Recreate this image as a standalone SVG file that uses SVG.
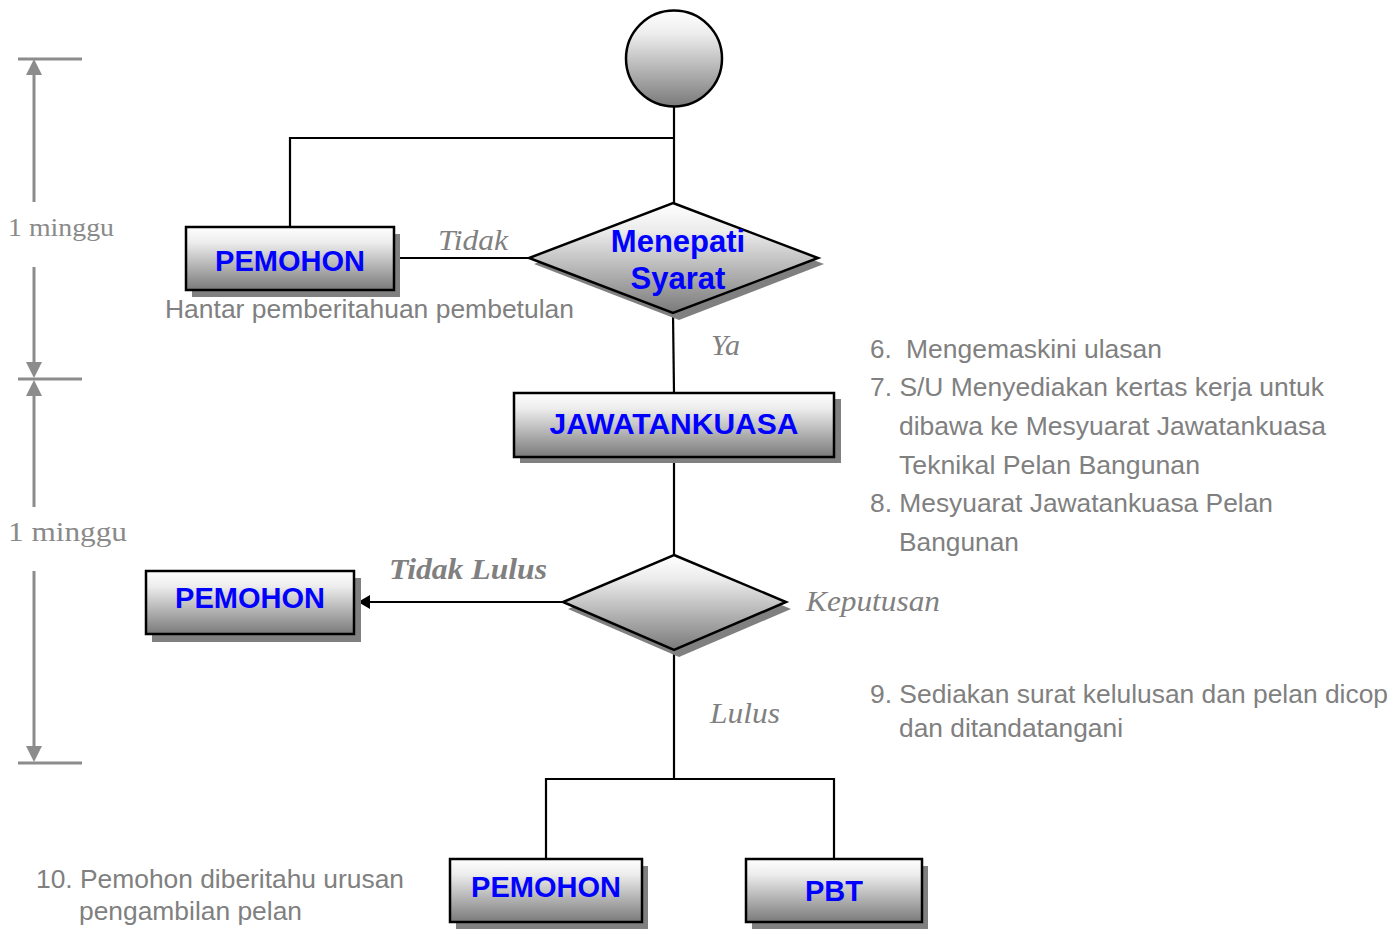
<svg xmlns="http://www.w3.org/2000/svg" width="1397" height="932" viewBox="0 0 1397 932">
  <defs>
    <linearGradient id="g" x1="0" y1="0" x2="0" y2="1">
      <stop offset="0" stop-color="#ffffff"/>
      <stop offset="0.25" stop-color="#ececec"/>
      <stop offset="1" stop-color="#7a7a7a"/>
    </linearGradient>
    <marker id="arr" markerWidth="12" markerHeight="14" refX="11" refY="7" orient="auto" markerUnits="userSpaceOnUse">
      <path d="M0,0 L12,7 L0,14 Z" fill="#000"/>
    </marker>
    <style>
      .box { fill: url(#g); stroke: #000; stroke-width: 2.5; }
      .shadow { fill: #808080; }
      .lbl { font-family: "Liberation Sans", Arial, sans-serif; font-weight: bold; fill: #0000ff; text-anchor: middle; }
      .note { font-family: "Liberation Sans", Arial, sans-serif; font-size: 26px; fill: #808080; }
      .it { font-family: "Liberation Serif", "Times New Roman", serif; font-style: italic; fill: #808080; }
      .dim { font-family: "Liberation Serif", "Times New Roman", serif; fill: #8a8a8a; }
      .conn { stroke: #000; stroke-width: 2.2; fill: none; }
      .dline { stroke: #8c8c8c; stroke-width: 3; fill: none; }
      .dhead { fill: #8c8c8c; }
    </style>
  </defs>
  <rect width="1397" height="932" fill="#ffffff"/>

  <!-- time scale on the left -->
  <g id="timescale">
    <line class="dline" x1="18" y1="59" x2="82" y2="59"/>
    <polygon class="dhead" points="34,59 26,75 42,75"/>
    <line class="dline" x1="34" y1="74" x2="34" y2="202"/>
    <line class="dline" x1="34" y1="267" x2="34" y2="364"/>
    <polygon class="dhead" points="34,378 26,362 42,362"/>
    <line class="dline" x1="18" y1="379" x2="82" y2="379"/>
    <polygon class="dhead" points="34,380 26,396 42,396"/>
    <line class="dline" x1="34" y1="395" x2="34" y2="507"/>
    <line class="dline" x1="34" y1="571" x2="34" y2="748"/>
    <polygon class="dhead" points="34,762 26,746 42,746"/>
    <line class="dline" x1="18" y1="763" x2="82" y2="763"/>
    <text class="dim" x="8" y="236" font-size="26" textLength="106" lengthAdjust="spacingAndGlyphs">1 minggu</text>
    <text class="dim" x="8" y="541" font-size="28" textLength="119" lengthAdjust="spacingAndGlyphs">1 minggu</text>
  </g>

  <!-- connectors -->
  <g id="connectors">
    <line class="conn" x1="674" y1="107" x2="674" y2="204"/>
    <polyline class="conn" points="674,138 290,138 290,227"/>
    <line class="conn" x1="394" y1="258" x2="529" y2="258"/>
    <line class="conn" x1="673" y1="313" x2="674" y2="393"/>
    <line class="conn" x1="674" y1="457" x2="674" y2="555"/>
    <line class="conn" x1="563" y1="602" x2="359" y2="602" marker-end="url(#arr)"/>
    <line class="conn" x1="674" y1="650" x2="674" y2="779"/>
    <polyline class="conn" points="546,859 546,779 834,779 834,859"/>
  </g>

  <!-- start circle -->
  <g id="start">
    <circle cx="674" cy="58.5" r="48" fill="url(#g)" stroke="#000" stroke-width="2.5"/>
  </g>

  <!-- decision: Menepati Syarat -->
  <g id="d-menepati">
    <polygon class="shadow" points="679,209 824,264 679,320 534,264"/>
    <polygon class="box" points="673,203 818,258 673,313 529,258"/>
    <text class="lbl" x="678" y="252" font-size="31">Menepati</text>
    <text class="lbl" x="678" y="289" font-size="31">Syarat</text>
  </g>

  <!-- PEMOHON (top) -->
  <g id="n-pemohon1">
    <rect class="shadow" x="192" y="234" width="208" height="63"/>
    <rect class="box" x="186" y="227" width="208" height="63"/>
    <text class="lbl" x="290" y="271" font-size="29">PEMOHON</text>
  </g>

  <!-- JAWATANKUASA -->
  <g id="n-jawatankuasa">
    <rect class="shadow" x="520" y="399" width="321" height="64"/>
    <rect class="box" x="514" y="393" width="320" height="64"/>
    <text class="lbl" x="674" y="434" font-size="30">JAWATANKUASA</text>
  </g>

  <!-- decision: Keputusan -->
  <g id="d-keputusan">
    <polygon class="shadow" points="679,562 791,609 679,657 568,609"/>
    <polygon class="box" points="674,555 786,602 674,650 563,602"/>
  </g>

  <!-- PEMOHON (middle left) -->
  <g id="n-pemohon2">
    <rect class="shadow" x="152" y="578" width="209" height="64"/>
    <rect class="box" x="146" y="571" width="208" height="63"/>
    <text class="lbl" x="250" y="608" font-size="29">PEMOHON</text>
  </g>

  <!-- PEMOHON (bottom) -->
  <g id="n-pemohon3">
    <rect class="shadow" x="456" y="866" width="192" height="63"/>
    <rect class="box" x="450" y="859" width="192" height="63"/>
    <text class="lbl" x="546" y="897" font-size="29">PEMOHON</text>
  </g>

  <!-- PBT -->
  <g id="n-pbt">
    <rect class="shadow" x="752" y="866" width="176" height="63"/>
    <rect class="box" x="746" y="859" width="176" height="63"/>
    <text class="lbl" x="834" y="901" font-size="29">PBT</text>
  </g>

  <!-- connector labels -->
  <g id="labels">
    <text class="it" x="438" y="250" font-size="30" textLength="70" lengthAdjust="spacingAndGlyphs">Tidak</text>
    <text class="it" x="711" y="355" font-size="30" textLength="29" lengthAdjust="spacingAndGlyphs">Ya</text>
    <text class="it" x="389" y="579" font-size="30" font-weight="bold" textLength="158" lengthAdjust="spacingAndGlyphs">Tidak Lulus</text>
    <text class="it" x="806" y="611" font-size="30" textLength="134" lengthAdjust="spacingAndGlyphs">Keputusan</text>
    <text class="it" x="710" y="723" font-size="30" textLength="70" lengthAdjust="spacingAndGlyphs">Lulus</text>
  </g>

  <!-- notes -->
  <g id="notes">
    <text class="note" x="165" y="318" textLength="409" lengthAdjust="spacingAndGlyphs">Hantar pemberitahuan pembetulan</text>
    <text class="note" y="358"><tspan x="870">6.</tspan><tspan x="906" textLength="256" lengthAdjust="spacingAndGlyphs">Mengemaskini ulasan</tspan></text>
    <text class="note" x="870" y="396" textLength="454" lengthAdjust="spacingAndGlyphs">7. S/U Menyediakan kertas kerja untuk</text>
    <text class="note" x="899" y="435" textLength="427" lengthAdjust="spacingAndGlyphs">dibawa ke Mesyuarat Jawatankuasa</text>
    <text class="note" x="899" y="474" textLength="301" lengthAdjust="spacingAndGlyphs">Teknikal Pelan Bangunan</text>
    <text class="note" x="870" y="512" textLength="403" lengthAdjust="spacingAndGlyphs">8. Mesyuarat Jawatankuasa Pelan</text>
    <text class="note" x="899" y="551" textLength="120" lengthAdjust="spacingAndGlyphs">Bangunan</text>
    <text class="note" x="870" y="703" textLength="518" lengthAdjust="spacingAndGlyphs">9. Sediakan surat kelulusan dan pelan dicop</text>
    <text class="note" x="899" y="737" textLength="224" lengthAdjust="spacingAndGlyphs">dan ditandatangani</text>
    <text class="note" x="36" y="888" textLength="368" lengthAdjust="spacingAndGlyphs">10. Pemohon diberitahu urusan</text>
    <text class="note" x="79" y="920" textLength="223" lengthAdjust="spacingAndGlyphs">pengambilan pelan</text>
  </g>
</svg>
